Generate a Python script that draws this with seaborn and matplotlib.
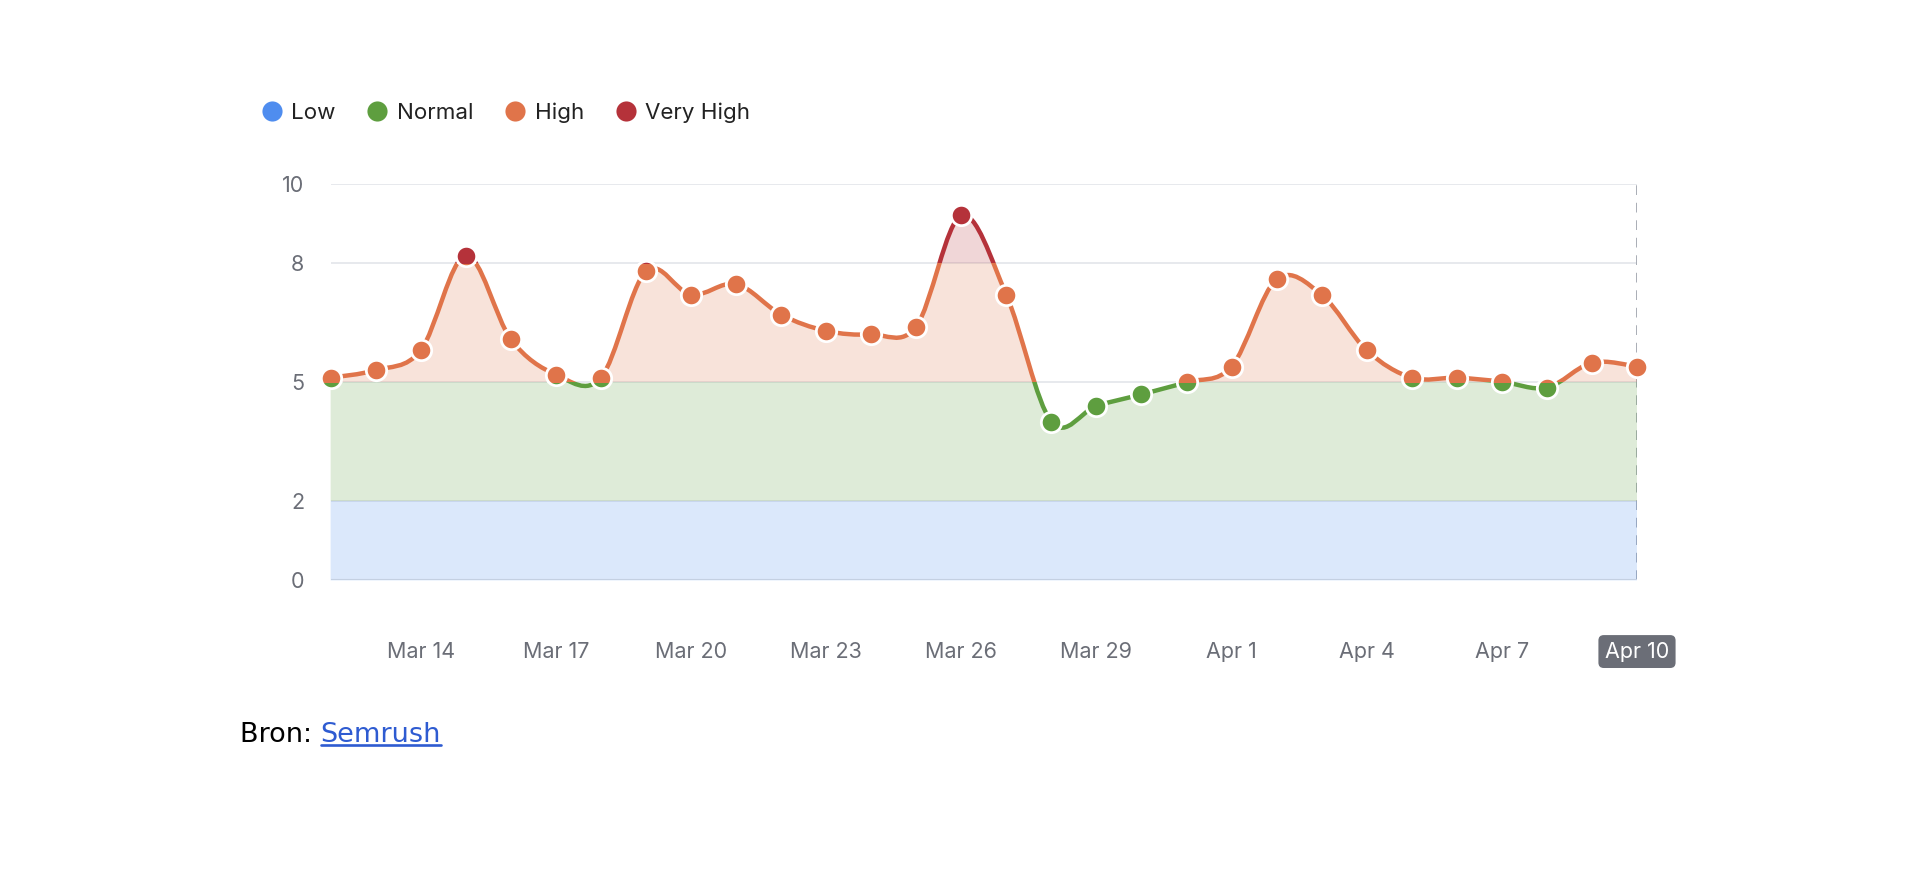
import numpy as np
import matplotlib
matplotlib.use("Agg")
import matplotlib.pyplot as plt
import seaborn as sns
from matplotlib.path import Path
from matplotlib.patches import PathPatch, Rectangle
from matplotlib.lines import Line2D

# data
dates = ["Mar 12", "Mar 13", "Mar 14", "Mar 15", "Mar 16", "Mar 17", "Mar 18",
         "Mar 19", "Mar 20", "Mar 21", "Mar 22", "Mar 23", "Mar 24", "Mar 25",
         "Mar 26", "Mar 27", "Mar 28", "Mar 29", "Mar 30", "Mar 31", "Apr 1",
         "Apr 2", "Apr 3", "Apr 4", "Apr 5", "Apr 6", "Apr 7", "Apr 8", "Apr 9",
         "Apr 10"]
values = [5.11, 5.30, 5.80, 8.19, 6.08, 5.19, 5.11, 7.79, 7.20, 7.47,
          6.70, 6.29, 6.20, 6.40, 9.20, 7.20, 4.00, 4.40, 4.69, 5.00,
          5.39, 7.59, 7.20, 5.80, 5.11, 5.11, 5.01, 4.86, 5.49, 5.39]
tick_dates = ["Mar 14", "Mar 17", "Mar 20", "Mar 23", "Mar 26", "Mar 29",
              "Apr 1", "Apr 4", "Apr 7", "Apr 10"]
y_ticks = [0, 2, 5, 8, 10]

zone_names = ["Low", "Normal", "High", "Very High"]
zone_bounds = [0, 2, 5, 8, 10]
zone_colors = ["#4f8def", "#5e9e3f", "#e0744a", "#b5323a"]


def spline_path(x, y, close_to=None):
    # catmull-rom curve through the points, as cubic bezier segments
    px = np.concatenate([[x[0]], x, [x[-1]]])
    py = np.concatenate([[y[0]], y, [y[-1]]])
    verts = [(x[0], y[0])]
    codes = [Path.MOVETO]
    for i in range(len(x) - 1):
        c1 = (x[i] + (px[i + 2] - px[i]) / 6, y[i] + (py[i + 2] - py[i]) / 6)
        c2 = (x[i + 1] - (px[i + 3] - px[i + 1]) / 6,
              y[i + 1] - (py[i + 3] - py[i + 1]) / 6)
        verts += [c1, c2, (x[i + 1], y[i + 1])]
        codes += [Path.CURVE4] * 3
    if close_to is not None:
        verts += [(x[-1], close_to), (x[0], close_to), (x[0], y[0])]
        codes += [Path.LINETO, Path.LINETO, Path.CLOSEPOLY]
    return Path(verts, codes)


def main():
    sns.set_style("white")
    plt.rcParams["font.family"] = ["Inter", "DejaVu Sans"]

    fig = plt.figure(figsize=(19.2, 8.71), dpi=100)
    ax = fig.add_axes([0.1722, 0.3336, 0.6804, 0.4555])

    xpos = np.arange(len(dates), dtype=float)
    yv = np.array(values)

    ax.set_xlim(0, len(dates) - 1)
    ax.set_ylim(0, 10)

    line_path = spline_path(xpos, yv)
    fill_path = spline_path(xpos, yv, close_to=0)

    # one pass per zone, everything clipped to the zone's horizontal strip
    for i, color in enumerate(zone_colors):
        lo = zone_bounds[i] if i > 0 else -2
        hi = zone_bounds[i + 1] if i < len(zone_colors) - 1 else 12
        rect = Rectangle((-2, lo), len(dates) + 3, hi - lo, transform=ax.transData)

        fill = PathPatch(fill_path, facecolor=color, alpha=0.2, edgecolor="none", zorder=1)
        ax.add_patch(fill)
        fill.set_clip_path(rect)

        line = PathPatch(line_path, facecolor="none", edgecolor=color, lw=3.2,
                         capstyle="round", joinstyle="round", zorder=3)
        ax.add_patch(line)
        line.set_clip_path(rect)

        sns.scatterplot(x=xpos, y=yv, color=color, s=215, edgecolor="white",
                        linewidth=2.0, ax=ax, zorder=4, legend=False)
        ax.collections[-1].set_clip_path(rect)

    # grid, base line and crosshair
    for t in y_ticks[1:]:
        ax.axhline(t, color="#e3e5ea", lw=1.2, zorder=0.5)
    ax.axhline(0, color="#c4d0e2", lw=1.5, zorder=2)
    ax.axvline(xpos[-1], ymin=0, ymax=1, color="#a9adb5", lw=1.4,
               ls=(0, (5, 4)), zorder=0.6)

    sns.despine(ax=ax, left=True, bottom=True)

    ax.set_yticks(y_ticks)
    ax.set_yticklabels([str(t) for t in y_ticks])
    ax.set_xticks([dates.index(d) for d in tick_dates])
    ax.set_xticklabels(tick_dates)
    ax.tick_params(axis="y", length=0, pad=19, labelsize=15.5, labelcolor="#6b6e77")
    ax.tick_params(axis="x", length=0, pad=44, labelsize=15.5, labelcolor="#6b6e77")
    last = ax.get_xticklabels()[-1]
    last.set_color("white")
    last.set_bbox(dict(boxstyle="round,pad=0.3,rounding_size=0.25",
                       fc="#6b6e77", ec="none"))

    # legend
    handles = [Line2D([], [], ls="none", marker="o", markersize=14.5,
                      markerfacecolor=c, markeredgecolor="none") for c in zone_colors]
    fig.legend(handles, zone_names, loc="center left",
               bbox_to_anchor=(261 / 1920, 1 - 113 / 871), ncol=4, frameon=False,
               fontsize=16.1, handlelength=0.95, handletextpad=0.38, columnspacing=1.42,
               borderpad=0, borderaxespad=0, labelcolor="#222222")

    # source line
    src_y = 1 - 735 / 871
    src_font = ["DejaVu Sans"]
    t1 = fig.text(240 / 1920, src_y, "Bron: ", fontsize=19.5, family=src_font,
                  color="black", va="center")
    fig.canvas.draw()
    bb = t1.get_window_extent()
    t2 = fig.text(bb.x1 / 1920, src_y, "Semrush", fontsize=19.5,
                  family=src_font, color="#2e5bd1", va="center")
    fig.canvas.draw()
    bb2 = t2.get_window_extent()
    uy = (bb2.y0 + 3) / 871
    fig.add_artist(Line2D([bb2.x0 / 1920, bb2.x1 / 1920], [uy, uy],
                          color="#2e5bd1", lw=1.9, transform=fig.transFigure))

    fig.savefig("out.png", dpi=100)
    plt.close(fig)


if __name__ == "__main__":
    main()
